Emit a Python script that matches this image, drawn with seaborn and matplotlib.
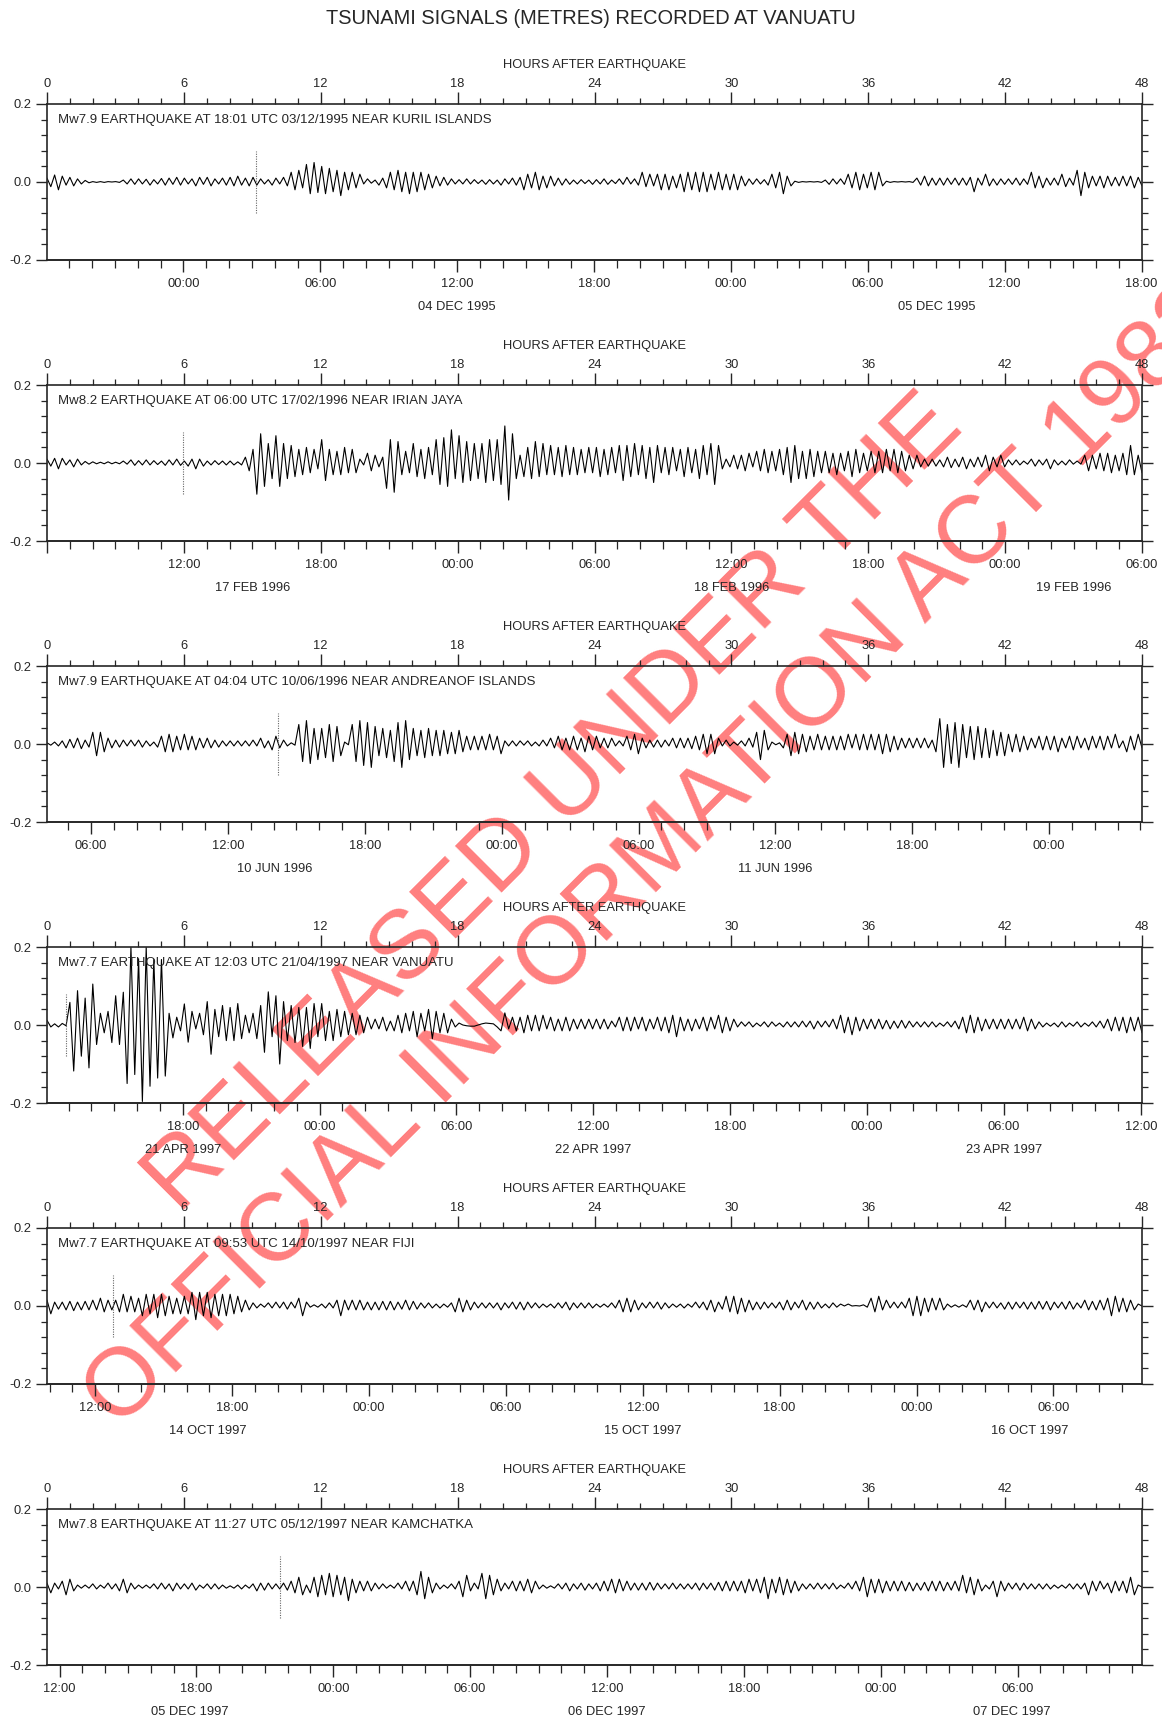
import numpy as np
import pandas as pd
import seaborn as sns
import matplotlib
matplotlib.use("Agg")
import matplotlib.pyplot as plt
import matplotlib.transforms as mtransforms
from matplotlib.ticker import MultipleLocator

# earthquake info
quake_labels = [
    "Mw7.9 EARTHQUAKE AT 18:01 UTC 03/12/1995 NEAR KURIL ISLANDS",
    "Mw8.2 EARTHQUAKE AT 06:00 UTC 17/02/1996 NEAR IRIAN JAYA",
    "Mw7.9 EARTHQUAKE AT 04:04 UTC 10/06/1996 NEAR ANDREANOF ISLANDS",
    "Mw7.7 EARTHQUAKE AT 12:03 UTC 21/04/1997 NEAR VANUATU",
    "Mw7.7 EARTHQUAKE AT 09:53 UTC 14/10/1997 NEAR FIJI",
    "Mw7.8 EARTHQUAKE AT 11:27 UTC 05/12/1997 NEAR KAMCHATKA",
]
quake_starts = ["1995-12-03 18:01", "1996-02-17 06:00", "1996-06-10 04:04",
                "1997-04-21 12:03", "1997-10-14 09:53", "1997-12-05 11:27"]
arrival_hours = [9.17, 5.96, 10.13, 0.84, 2.89, 10.23]

# sea level (mm), every 10 minutes over 48 hours
kuril = [
    10, -12, 18, -20, 15, -8, 12, -10, 8, -5, 4, -2,
    1, -1, 1, -1, 1, 0, 1, -1, 5, -5, 8, -6,
    8, -5, 7, -8, 6, -5, 9, -8, 10, -6, 12, -8,
    10, -5, 8, -10, 12, -6, 12, -10, 8, -5, 10, -8,
    12, -10, 15, -8, 10, -10, 12, -8, 8, -5, 6, -8,
    10, -5, 12, -10, 25, -20, 30, -15, 45, -30, 50, -27,
    40, -30, 35, -25, 30, -35, 25, -20, 25, -15, 20, -5,
    8, -3, 5, -8, 10, -15, 25, -20, 30, -25, 25, -30,
    25, -25, 25, -20, 20, -15, 15, -10, 12, -8, 8, -5,
    6, -5, 8, -5, 6, -4, 5, -6, 6, -5, 5, -8,
    8, -5, 10, -8, 12, -20, 20, -15, 25, -20, 15, -15,
    15, -10, 10, -8, 8, -6, 5, -5, 6, -4, 5, -6,
    6, -5, 8, -6, 5, -4, 8, -6, 12, -5, 8, -8,
    25, -12, 20, -10, 20, -20, 20, -20, 15, -15, 20, -25,
    25, -20, 25, -25, 25, -25, 20, -20, 25, -20, 20, -20,
    20, -20, 15, -10, 8, -6, 8, -5, 6, -8, 20, -15,
    25, -30, 15, -10, 2, -1, 1, 0, 1, 0, 1, -1,
    5, -6, 8, -5, 8, -6, 20, -15, 25, -20, 20, -15,
    25, -20, 25, -10, 2, -1, 1, 0, 1, 0, 1, -1,
    10, -8, 15, -10, 10, -8, 10, -8, 10, -6, 10, -8,
    10, -8, 12, -25, 10, -8, 20, -10, 8, -8, 8, -6,
    8, -6, 10, -8, 8, -6, 25, -15, 15, -15, 10, -8,
    10, -8, 20, -12, 10, -8, 30, -35, 25, -15, 15, -10,
    15, -15, 15, -10, 12, -10, 15, -10, 15, -15, 12, -10,
]
irian = [
    10, -8, 12, -15, 12, -5, 8, -10, 10, -5, 4, -3,
    3, -2, 2, -2, 3, -2, 2, -2, 5, -3, 8, -6,
    6, -5, 8, -5, 6, -4, 5, -6, 8, -5, 10, -6,
    5, -8, 10, -15, 10, -8, 5, -5, 6, -4, 5, -5,
    5, -5, 3, -5, 15, -20, 35, -80, 75, -60, 50, -40,
    70, -60, 50, -40, 45, -35, 35, -30, 40, -25, 35, -15,
    60, -45, 35, -30, 30, -30, 40, -25, 35, -25, 10, -5,
    25, -20, 20, -10, 15, -65, 60, -75, 55, -30, 30, -25,
    50, -35, 35, -40, 40, -30, 60, -55, 65, -60, 85, -40,
    70, -50, 55, -45, 50, -40, 50, -50, 60, -45, 60, -55,
    95, -95, 75, -40, 20, -35, 40, -40, 55, -35, 50, -30,
    45, -30, 40, -35, 45, -30, 40, -30, 35, -25, 40, -25,
    40, -35, 35, -30, 40, -25, 45, -45, 45, -35, 50, -30,
    45, -40, 40, -50, 45, -25, 40, -30, 40, -20, 35, -35,
    40, -25, 35, -40, 45, -30, 50, -55, 45, -15, 10, -10,
    20, -15, 20, -20, 25, -10, 30, -20, 35, -25, 30, -20,
    35, -30, 40, -50, 45, -40, 30, -40, 35, -35, 30, -25,
    30, -25, 25, -30, 25, -20, 30, -35, 35, -25, 25, -20,
    30, -25, 30, -25, 35, -20, 35, -25, 30, -20, 20, -15,
    20, -10, 10, -8, 10, -8, 8, -10, 15, -12, 10, -10,
    15, -15, 10, -10, 15, -10, 20, -20, 15, -10, 20, -10,
    8, -5, 8, -5, 5, -3, 10, -8, 8, -5, 10, -15,
    8, -5, 5, -5, 8, -3, 5, -3, 20, -20, 20, -15,
    25, -20, 25, -25, 20, -20, 25, -30, 45, -30, 20, -25,
]
andreanof = [
    3, -3, 5, -5, 8, -10, 12, -10, 15, -12, 10, -8,
    30, -30, 30, -20, 15, -10, 10, -8, 10, -5, 10, -5,
    10, -8, 8, -5, 5, -8, 20, -20, 25, -20, 20, -15,
    25, -15, 20, -15, 15, -10, 15, -10, 10, -8, 8, -5,
    8, -5, 8, -5, 8, -5, 10, -5, 15, -10, 8, -15,
    20, -10, 10, -5, 3, -3, 50, -45, 60, -50, 40, -40,
    40, -35, 50, -45, 45, -30, 5, -2, 50, -45, 60, -55,
    55, -60, 45, -30, 40, -35, 35, -45, 55, -60, 60, -40,
    40, -30, 35, -35, 40, -30, 35, -30, 35, -25, 30, -25,
    35, -20, 20, -15, 20, -15, 20, -15, 25, -15, 20, -25,
    8, -5, 8, -5, 8, -3, 8, -5, 5, -5, 10, -5,
    15, -10, 20, -15, 15, -15, 20, -15, 15, -20, 20, -15,
    20, -10, 15, -10, 15, -5, 8, -5, 20, -15, 25, -25,
    15, -10, 10, -8, 10, -8, 10, -5, 15, -10, 15, -10,
    15, -12, 20, -15, 25, -25, 25, -25, 15, -5, 10, -5,
    5, -3, 8, -5, 15, -8, 30, -40, 35, -15, 5, -2,
    3, -10, 25, -30, 30, -25, 25, -20, 20, -15, 25, -15,
    20, -15, 20, -15, 20, -15, 25, -10, 25, -15, 25, -15,
    25, -15, 25, -25, 25, -20, 20, -15, 15, -10, 15, -10,
    15, -10, 15, -10, 10, -20, 65, -60, 50, -50, 55, -60,
    50, -35, 45, -40, 45, -35, 40, -35, 35, -30, 30, -30,
    25, -20, 25, -20, 20, -15, 15, -10, 20, -15, 20, -15,
    20, -20, 15, -10, 20, -15, 20, -10, 15, -15, 20, -10,
    20, -15, 20, -10, 25, -10, 8, -20, 20, -15, 25, -10,
]
vanuatu = [
    12, -5, 3, -5, 4, -2, 58, -118, 88, -80, 69, -110,
    105, -50, 30, -20, 35, -45, 75, -50, 84, -150, 200, -127,
    170, -196, 200, -157, 168, -136, 168, -131, 30, -33, 20, -15,
    54, -44, 35, -10, 30, -25, 60, -75, 40, -30, 50, -40,
    45, -40, 55, -35, 25, -20, 30, -35, 50, -70, 85, -30,
    75, -100, 60, -40, 50, -45, 45, -55, 45, -60, 55, -30,
    55, -40, 35, -40, 40, -30, 35, -25, 30, -25, 25, -20,
    20, -10, 15, -10, 20, -15, 10, -15, 25, -20, 30, -15,
    35, -30, 30, -15, 40, -35, 35, -20, 30, -20, 15, -5,
    5, 0, -2, -3, -3, 0, 3, 5, 4, 3, -5, -15,
    31, -10, 20, -15, 20, -20, 25, -15, 25, -15, 25, -10,
    20, -15, 15, -15, 20, -15, 15, -10, 15, -10, 15, -10,
    15, -10, 15, -10, 10, -5, 20, -15, 20, -15, 20, -10,
    20, -15, 15, -10, 20, -15, 20, -20, 25, -30, 20, -15,
    15, -15, 15, -10, 20, -15, 20, -10, 25, -20, 20, -15,
    15, -5, 8, -3, 8, -5, 5, -3, 8, -5, 8, -3,
    5, -5, 8, -5, 8, -5, 10, -5, 10, -10, 10, -5,
    10, -5, 15, -10, 25, -20, 20, -25, 20, -15, 15, -10,
    15, -10, 15, -10, 12, -10, 10, -8, 12, -8, 10, -5,
    8, -5, 8, -5, 8, -5, 5, -3, 8, -5, 10, -10,
    20, -20, 25, -20, 20, -15, 15, -10, 15, -10, 15, -10,
    15, -10, 15, -10, 20, -15, 15, -10, 8, -5, 5, -3,
    5, -5, 8, -5, 5, -3, 8, -5, 5, -3, 8, -5,
    10, -8, 15, -15, 20, -15, 20, -20, 20, -15, 20, -20,
]
fiji = [
    15, -20, 10, -8, 10, -10, 12, -12, 10, -10, 12, -10,
    15, -10, 20, -15, 15, -10, 15, -15, 30, -15, 25, -15,
    20, -25, 30, -20, 30, -30, 30, -25, 25, -20, 20, -20,
    25, -20, 35, -35, 35, -25, 35, -30, 30, -25, 30, -25,
    30, -20, 25, -15, 15, -10, 8, -5, 5, -3, 8, -5,
    10, -5, 10, -8, 10, -5, 20, -25, 10, -3, 3, -3,
    5, -5, 8, -5, 15, -25, 15, -10, 15, -10, 15, -10,
    10, -10, 10, -10, 12, -10, 12, -10, 10, -8, 15, -10,
    12, -8, 8, -5, 8, -5, 5, -5, 5, -3, 8, -15,
    20, -15, 15, -10, 10, -5, 8, -5, 8, -5, 8, -10,
    8, -5, 10, -8, 10, -10, 10, -5, 8, -5, 5, -3,
    5, -5, 8, -5, 10, -10, 8, -5, 8, -5, 8, -5,
    5, -3, 5, -3, 8, -5, 15, -15, 20, -15, 15, -10,
    8, -5, 10, -5, 10, -8, 8, -5, 5, -3, 5, -5,
    5, -3, 10, -5, 10, -10, 15, -15, 10, -8, 25, -15,
    25, -20, 20, -15, 15, -10, 10, -8, 10, -5, 8, -5,
    10, -10, 15, -10, 10, -5, 15, -10, 10, -8, 10, -5,
    5, -5, 8, -3, 5, 0, 5, 0, 1, 0, 3, -3,
    20, -15, 25, -10, 15, -5, 10, -5, 10, -5, 20, -25,
    25, -25, 20, -15, 20, -10, 20, -10, 5, -3, 3, -3,
    3, -3, 15, -10, 15, -15, 10, -5, 10, -5, 8, -8,
    10, -8, 10, -5, 10, -8, 10, -8, 12, -8, 12, -10,
    10, -5, 10, -8, 12, -8, 8, -5, 15, -10, 12, -10,
    15, -10, 20, -25, 25, -15, 20, -15, 15, -10, 5, 0,
]
kamchatka = [
    10, -15, 10, -5, 15, -20, 20, -10, 5, -3, 5, -3,
    8, -5, 5, -3, 10, -5, 8, -10, 20, -15, 10, -5,
    5, -3, 5, -3, 8, -5, 10, -5, 8, -10, 10, -5,
    8, -5, 10, -8, 5, -3, 8, -5, 8, -5, 5, -3,
    3, -3, 5, -5, 5, -3, 8, -10, 10, -8, 10, -5,
    8, -5, 10, -8, 15, -15, 25, -20, 5, -15, 25, -25,
    30, -20, 35, -25, 30, -20, 25, -35, 20, -15, 15, -10,
    15, -10, 10, -5, 8, -3, 5, -3, 10, -5, 15, -10,
    15, -20, 40, -30, 25, -15, 10, -5, 5, -3, 8, -5,
    15, -25, 30, -10, 10, -5, 35, -30, 30, -20, 20, -10,
    10, -5, 15, -10, 15, -10, 20, -15, 15, -5, 5, -3,
    3, -3, 8, -5, 10, -10, 8, -5, 10, -8, 8, -5,
    10, -10, 15, -10, 20, -15, 20, -10, 15, -8, 10, -8,
    10, -8, 12, -8, 10, -5, 8, -5, 10, -5, 8, -5,
    8, -5, 10, -8, 10, -5, 10, -8, 12, -10, 15, -10,
    15, -10, 15, -15, 20, -10, 20, -15, 25, -30, 20, -15,
    25, -20, 20, -15, 15, -10, 8, -5, 8, -5, 10, -5,
    8, -5, 10, -5, 5, -3, 10, -5, 15, -10, 25, -25,
    20, -15, 20, -15, 15, -10, 15, -10, 15, -10, 12, -10,
    10, -8, 12, -10, 15, -10, 15, -10, 12, -8, 15, -10,
    30, -15, 25, -20, 20, -10, 5, -5, 15, -25, 15, -10,
    10, -5, 10, -8, 10, -5, 8, -5, 8, -5, 8, -5,
    5, -3, 5, -3, 8, -5, 8, -5, 10, -20, 15, -10,
    15, -5, 10, -15, 15, -10, 15, -15, 25, -20, 5, 0,
]
traces = [kuril, irian, andreanof, vanuatu, fiji, kamchatka]

sns.set_style("ticks")
plt.rcParams["font.family"] = ["Liberation Sans", "DejaVu Sans"]
plt.rcParams["axes.unicode_minus"] = False

W, H = 1162, 1718
fig = plt.figure(figsize=(W / 100, H / 100), dpi=100)
fs = 9.3

fig.text(591 / W, 1 - 19 / H, "TSUNAMI SIGNALS (METRES) RECORDED AT VANUATU",
         ha="center", va="center", fontsize=14.4)

for k, trace in enumerate(traces):
    top = 104 + 281 * k
    ax = fig.add_axes([47 / W, 1 - (top + 156) / H, 1095 / W, 156 / H])
    ax.set_facecolor("none")
    df = pd.DataFrame({"hours": np.linspace(0, 48, len(trace)),
                       "level": np.array(trace) / 1000.0})
    sns.lineplot(data=df, x="hours", y="level", ax=ax, color="black",
                 lw=0.8, estimator=None, sort=False)
    ax.vlines(arrival_hours[k], -0.08, 0.08, colors="0.4",
              linestyles=(0, (1, 1.2)), lw=0.8)
    ax.set_xlim(0, 48)
    ax.set_ylim(-0.2, 0.2)
    ax.set_xlabel("")
    ax.set_ylabel("")
    for s in ax.spines.values():
        s.set_visible(True)
        s.set_linewidth(1.2)

    # hours after earthquake on top
    ax.xaxis.set_ticks_position("top")
    ax.xaxis.set_major_locator(MultipleLocator(6))
    ax.xaxis.set_minor_locator(MultipleLocator(1))
    ax.tick_params(axis="x", which="both", direction="out", top=True,
                   bottom=False, labeltop=True, labelbottom=False)
    ax.tick_params(axis="x", which="major", length=8.5, width=1.0, pad=1.5,
                   labelsize=fs)
    ax.tick_params(axis="x", which="minor", length=4.5, width=0.9)
    ax.text(0.5, 1 + 39 / 156, "HOURS AFTER EARTHQUAKE", transform=ax.transAxes,
            ha="center", va="center", fontsize=fs)

    ax.set_yticks([-0.2, 0.0, 0.2])
    ax.set_yticklabels(["-0.2", "0.0", "0.2"])
    ax.yaxis.set_minor_locator(MultipleLocator(0.04))
    ax.tick_params(axis="y", which="both", direction="out", left=True,
                   right=True, labelright=False)
    ax.tick_params(axis="y", which="major", length=8, width=1.0, pad=3,
                   labelsize=fs)
    ax.tick_params(axis="y", which="minor", length=4.2, width=0.9)

    ax.text(11 / 1095, 1 - 16 / 156, quake_labels[k], transform=ax.transAxes,
            ha="left", va="center", fontsize=9.5)

    # UTC clock time along the bottom
    t0 = pd.Timestamp(quake_starts[k])
    t1 = t0 + pd.Timedelta(hours=48)
    clock = pd.date_range(t0.ceil("h"), t1, freq="h")
    offs = np.asarray((clock - t0) / pd.Timedelta(hours=1))
    is_major = np.asarray(clock.hour % 6 == 0)
    major = offs[is_major]
    labels = [c.strftime("%H:%M") if o > 0 else ""
              for c, o in zip(clock[is_major], major)]
    sec = ax.secondary_xaxis("bottom")
    sec.set_xticks(major, labels=labels)
    sec.set_xticks(offs[~is_major], minor=True)
    sec.spines["bottom"].set_linewidth(1.2)
    sec.tick_params(axis="x", which="major", direction="out", length=8.5,
                    width=1.0, pad=4.5, labelsize=fs)
    sec.tick_params(axis="x", which="minor", direction="out", length=5.5,
                    width=0.9)

    trans = mtransforms.blended_transform_factory(ax.transData, ax.transAxes)
    for d in pd.date_range(t0.normalize(), t1, freq="D"):
        lo = max(d, t0)
        hi = min(d + pd.Timedelta(days=1), t1)
        span = (hi - lo) / pd.Timedelta(hours=1)
        if span >= 5.99:
            mid = ((lo - t0) / pd.Timedelta(hours=1) + span / 2)
            ax.text(mid, -47 / 156, d.strftime("%d %b %Y").upper(),
                    transform=trans, ha="center", va="center", fontsize=fs)

# watermark
fig.text(555 / W, 1 - 805 / H, "RELEASED UNDER THE", rotation=45,
         rotation_mode="anchor", ha="center", va="center", fontsize=70,
         color="#ff7f7f", zorder=-1)
fig.text(656 / W, 1 - 857 / H, "OFFICIAL INFORMATION ACT 1982", rotation=45,
         rotation_mode="anchor", ha="center", va="center", fontsize=69,
         color="#ff7f7f", zorder=-1)

fig.savefig("out.png", dpi=100)
